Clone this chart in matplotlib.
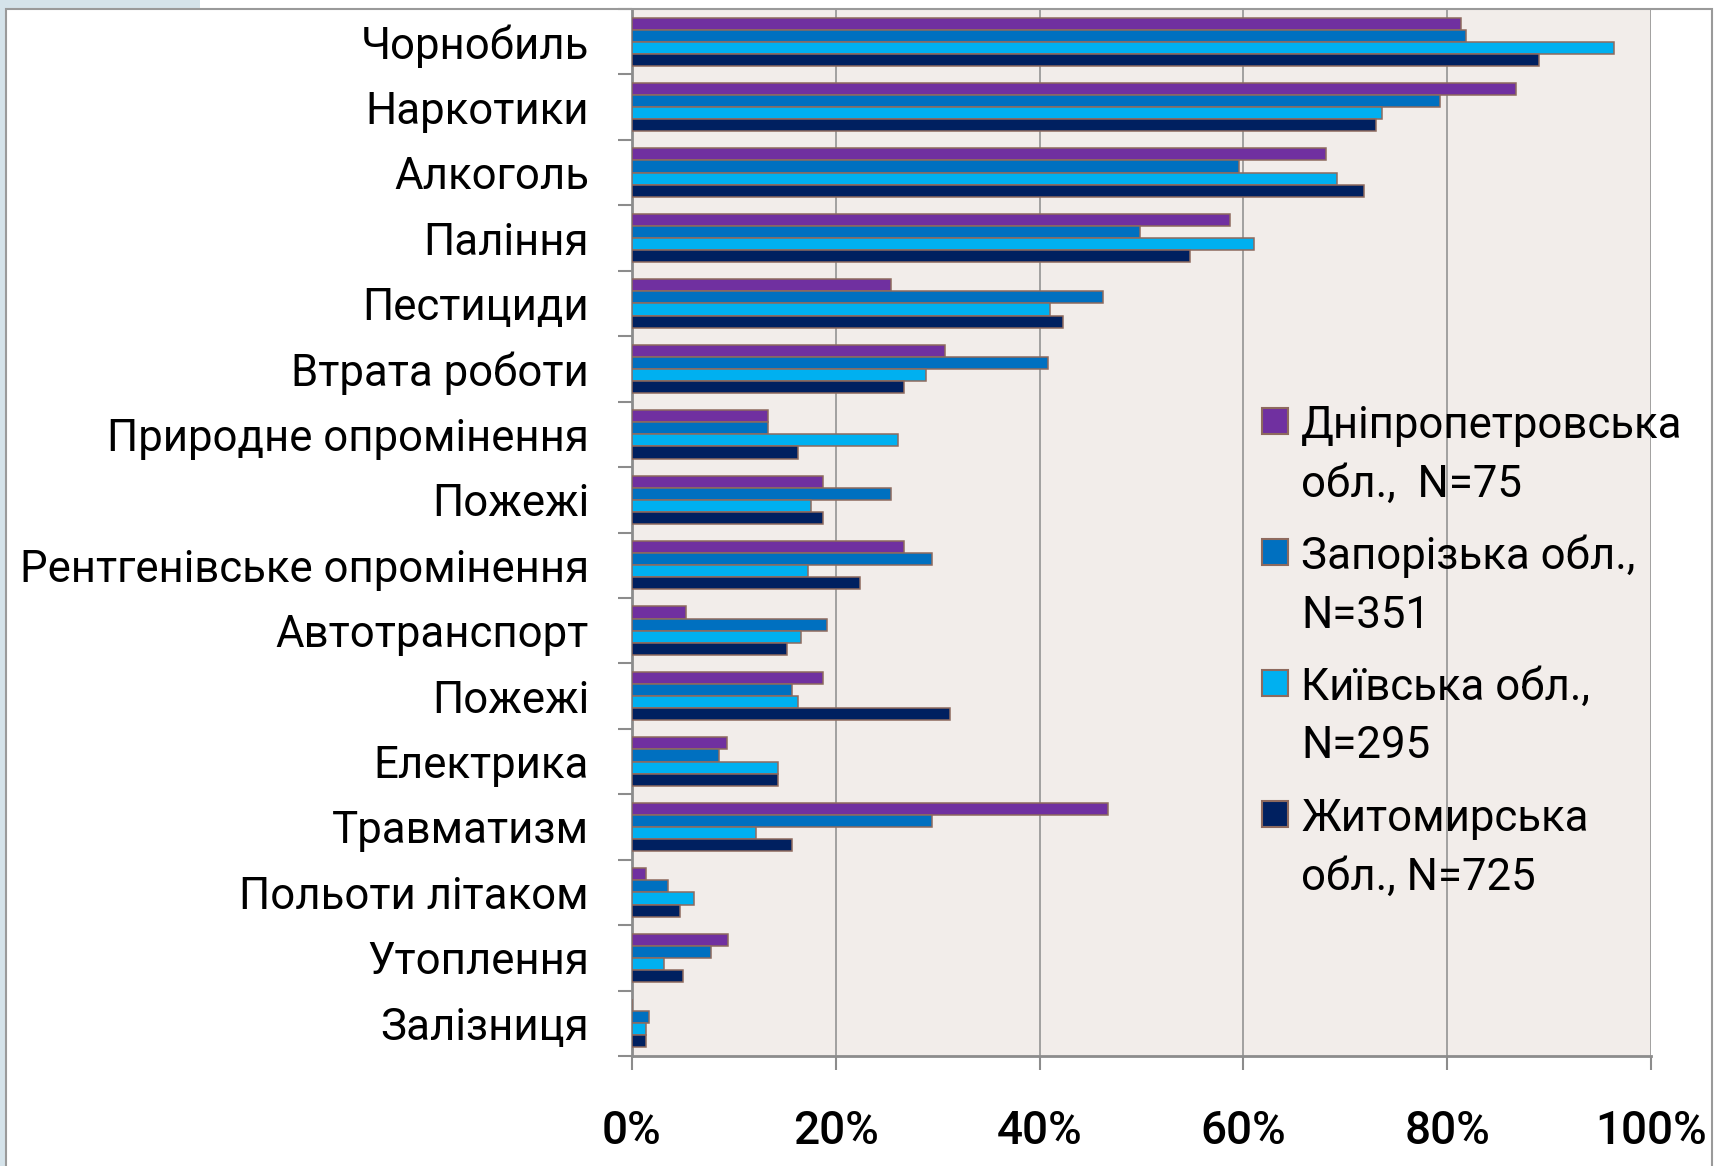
import matplotlib.pyplot as plt
from matplotlib.patches import Rectangle
import numpy as np

plt.rcParams['font.family'] = ['Roboto', 'DejaVu Sans']

categories = ['Чорнобиль', 'Наркотики', 'Алкоголь', 'Паління', 'Пестициди',
              'Втрата роботи', 'Природне опромінення', 'Пожежі',
              'Рентгенівське опромінення', 'Автотранспорт', 'Пожежі',
              'Електрика', 'Травматизм', 'Польоти літаком', 'Утоплення',
              'Залізниця']

series_names = ['Дніпропетровська\nобл.,  N=75',
                'Запорізька обл.,\nN=351',
                'Київська обл.,\nN=295',
                'Житомирська\nобл., N=725']

dnipro   = [81.4, 86.8, 68.1, 58.7, 25.4, 30.7, 13.3, 18.7, 26.7, 5.3, 18.7, 9.3, 46.7, 1.4, 9.4, 0.0]
zapor    = [81.8, 79.3, 59.6, 49.9, 46.2, 40.8, 13.3, 25.4, 29.4, 19.1, 15.7, 8.5, 29.4, 3.5, 7.8, 1.7]
kyiv     = [96.4, 73.6, 69.2, 61.0, 41.0, 28.9, 26.1, 17.6, 17.3, 16.6, 16.3, 14.3, 12.2, 6.1, 3.1, 1.4]
zhytomyr = [89.0, 73.0, 71.8, 54.8, 42.3, 26.7, 16.3, 18.7, 22.4, 15.2, 31.2, 14.3, 15.7, 4.7, 5.0, 1.4]

xticks = [0, 20, 40, 60, 80, 100]
xtick_labels = ['0%', '20%', '40%', '60%', '80%', '100%']

colors = ['#7030A0', '#0070C0', '#00B0F0', '#002060']
edge = '#8E6A5E'

W, H = 1725, 1166
fig = plt.figure(figsize=(W / 100, H / 100), dpi=100)
fig.patch.set_facecolor('white')

# slide decoration and frame
fig.patches.append(Rectangle((0, 0), 6 / W, 1, transform=fig.transFigure,
                             facecolor='#D5E3EA', edgecolor='none', zorder=0))
fig.patches.append(Rectangle((0, 1 - 9 / H), 200 / W, 9 / H, transform=fig.transFigure,
                             facecolor='#D5E3EA', edgecolor='none', zorder=0))
fig.patches.append(Rectangle((6 / W, -0.01), (1712 - 6) / W, 1.01 - 9 / H,
                             transform=fig.transFigure, facecolor='none',
                             edgecolor='#9A9A9A', linewidth=1.5, zorder=1))

ax = fig.add_axes([632 / W, 1 - 1056 / H, (1651 - 632) / W, (1056 - 9) / H])
ax.set_facecolor('#F2EDEA')

y = np.arange(len(categories))
h = 0.185
data = [dnipro, zapor, kyiv, zhytomyr]
for k, (vals, c) in enumerate(zip(data, colors)):
    ax.barh(y + (k - 1.5) * h, vals, height=h, color=c, edgecolor=edge,
            linewidth=1.1, zorder=3)

ax.set_xlim(0, 100)
ax.set_ylim(len(categories) - 0.5, -0.5)
ax.set_xticks(xticks)
ax.set_xticklabels(xtick_labels, fontsize=33, fontweight='medium')
ax.set_yticks(y)
ax.set_yticklabels(categories, fontsize=31.5)
ax.set_yticks(np.arange(len(categories) + 1) - 0.5, minor=True)

ax.grid(axis='x', color='#8C8C8C', linewidth=1.1, zorder=1)
ax.tick_params(axis='y', which='major', length=0, pad=31)
ax.tick_params(axis='y', which='minor', length=10, width=1.5, color='#8C8C8C')
ax.tick_params(axis='x', length=10, width=1.5, color='#8C8C8C', pad=28)

for s in ['top', 'right']:
    ax.spines[s].set_visible(False)
for s in ['left', 'bottom']:
    ax.spines[s].set_color('#8C8C8C')
    ax.spines[s].set_linewidth(2)

# legend: square marker beside first line, two text lines per entry
for k, (name, c) in enumerate(zip(series_names, colors)):
    base = 438 + k * 131
    fig.patches.append(Rectangle((1262 / W, 1 - (base - 4) / H), 26 / W, 26 / H,
                                 transform=fig.transFigure, facecolor=c,
                                 edgecolor=edge, linewidth=1.5, zorder=3))
    for j, line in enumerate(name.split('\n')):
        fig.text(1301 / W, 1 - (base + j * 58.5) / H, line, fontsize=31.5,
                 ha='left', va='baseline')

fig.savefig('out.png', dpi=100)
